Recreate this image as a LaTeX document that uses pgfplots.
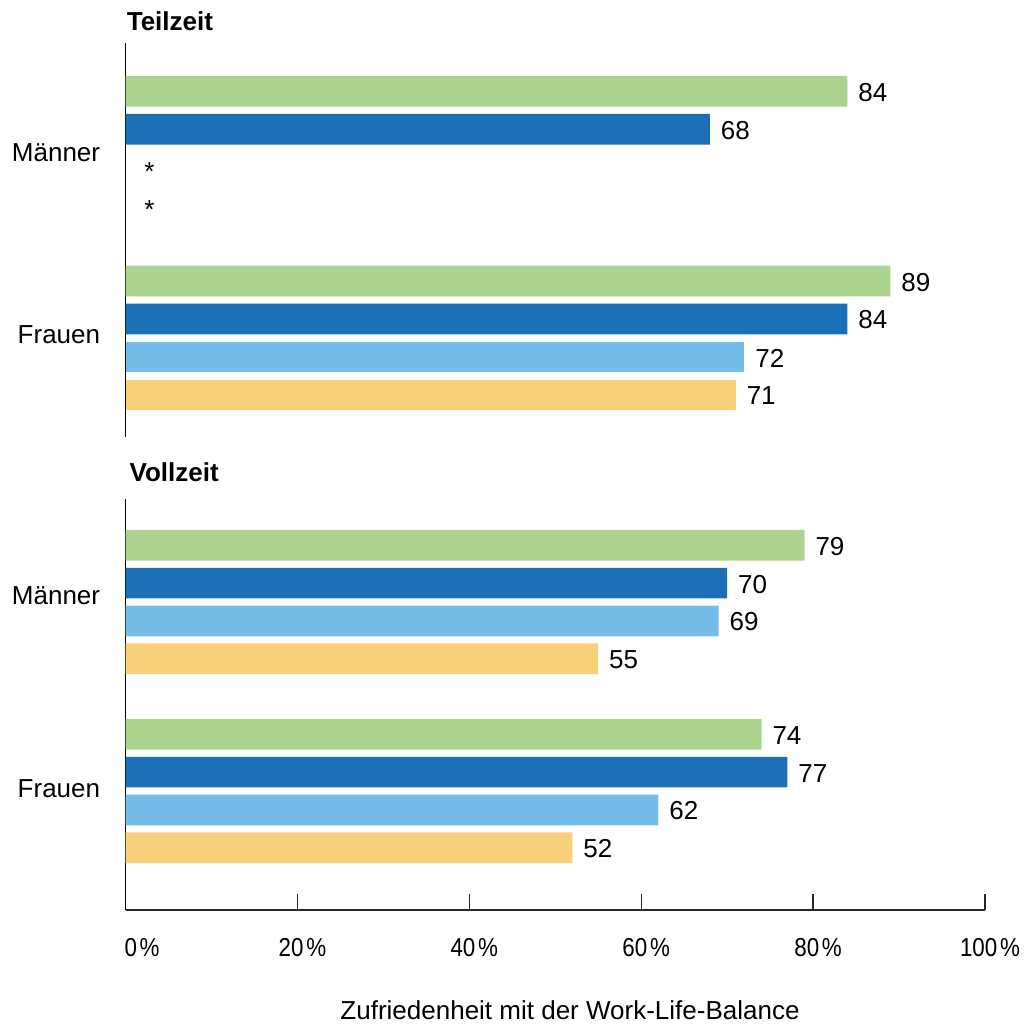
\documentclass[border=0pt]{standalone}
\usepackage{pgfplots}
\pgfplotsset{compat=1.18}
\usepackage{fontspec}
\setmainfont{Liberation Sans}
\newfontfamily\narrowfont[FakeStretch=0.86]{Liberation Sans}
\definecolor{cGreen}{HTML}{ACD28F}
\definecolor{cDark}{HTML}{1B6FB7}
\definecolor{cLight}{HTML}{74BDE8}
\definecolor{cYellow}{HTML}{F8D07A}
\newcommand{\fs}{\fontsize{13}{15.6}\selectfont}
\newcommand{\pc}{\kern1.4pt\%}
\pgfplotsset{
  mybars/.style={xbar, bar width=15.35pt, bar shift=0pt, draw=none, point meta=x,
    nodes near coords,
    every node near coord/.append style={anchor=west, inner sep=0pt, xshift=5.3pt, yshift=-0.5pt, font=\fs, text=black}},
  mypanel/.style={scale only axis, width=429.75pt, xmin=0, xmax=100, y dir=reverse,
    axis y line=left, y axis line style={-, black, line width=0.65pt},
    ytick style={draw=none},
    yticklabel style={font=\fs, anchor=east, inner sep=0pt, xshift=-12.5pt},
    tick align=inside, anchor=north west, clip=false,
    /pgf/number format/assume math mode=true}
}
\begin{document}
\begin{tikzpicture}
\useasboundingbox (0,0) rectangle (515pt,-516pt);
% ---------- Teilzeit ----------
\begin{axis}[mypanel, at={(62.75pt,-21.5pt)}, height=197pt,
  ymin=-1.273, ymax=9.109,
  axis x line=none, xtick=\empty,
  ytick={1.613,6.42}, yticklabels={Männer,Frauen}]
\addplot[mybars, fill=cGreen]  coordinates {(84,0) (89,5)};
\addplot[mybars, fill=cDark]   coordinates {(68,1) (84,6)};
\addplot[mybars, fill=cLight]  coordinates {(72,7)};
\addplot[mybars, fill=cYellow] coordinates {(71,8)};
\node[anchor=base, inner sep=0pt, font=\fs, xshift=12pt, yshift=-6.5pt] at (axis cs:0,2) {*};
\node[anchor=base, inner sep=0pt, font=\fs, xshift=12pt, yshift=-6.5pt] at (axis cs:0,3) {*};
\end{axis}
% ---------- Vollzeit ----------
\begin{axis}[mypanel, at={(62.75pt,-249.5pt)}, height=205.5pt,
  ymin=-1.225, ymax=9.648,
  axis x line=bottom, x axis line style={-, black!85, line width=0.65pt},
  xtick align=inside,
  xtick={0,20,40,60,80,100},
  xticklabels={\rlap{\kern-3pt 0\pc},20\pc,40\pc,60\pc,80\pc,100\pc},
  xtick style={black!85, line width=0.65pt}, major tick length=8pt,
  xticklabel style={font=\fs\narrowfont, anchor=base, inner sep=0pt, yshift=-23.35pt, xshift=2.5pt},
  ytick={1.341,6.439}, yticklabels={Männer,Frauen}]
\addplot[mybars, fill=cGreen]  coordinates {(79,0) (74,5)};
\addplot[mybars, fill=cDark]   coordinates {(70,1) (77,6)};
\addplot[mybars, fill=cLight]  coordinates {(69,2) (62,7)};
\addplot[mybars, fill=cYellow] coordinates {(55,3) (52,8)};
\end{axis}
% ---------- titles ----------
\node[anchor=base west, inner sep=0pt, font=\fs\bfseries] at (63.2pt,-15.35pt) {Teilzeit};
\node[anchor=base west, inner sep=0pt, font=\fs\bfseries] at (64.6pt,-240.5pt) {Vollzeit};
\node[anchor=base, inner sep=0pt, font=\fs] at (285pt,-509.75pt) {Zufriedenheit mit der Work-Life-Balance};
\end{tikzpicture}
\end{document}
